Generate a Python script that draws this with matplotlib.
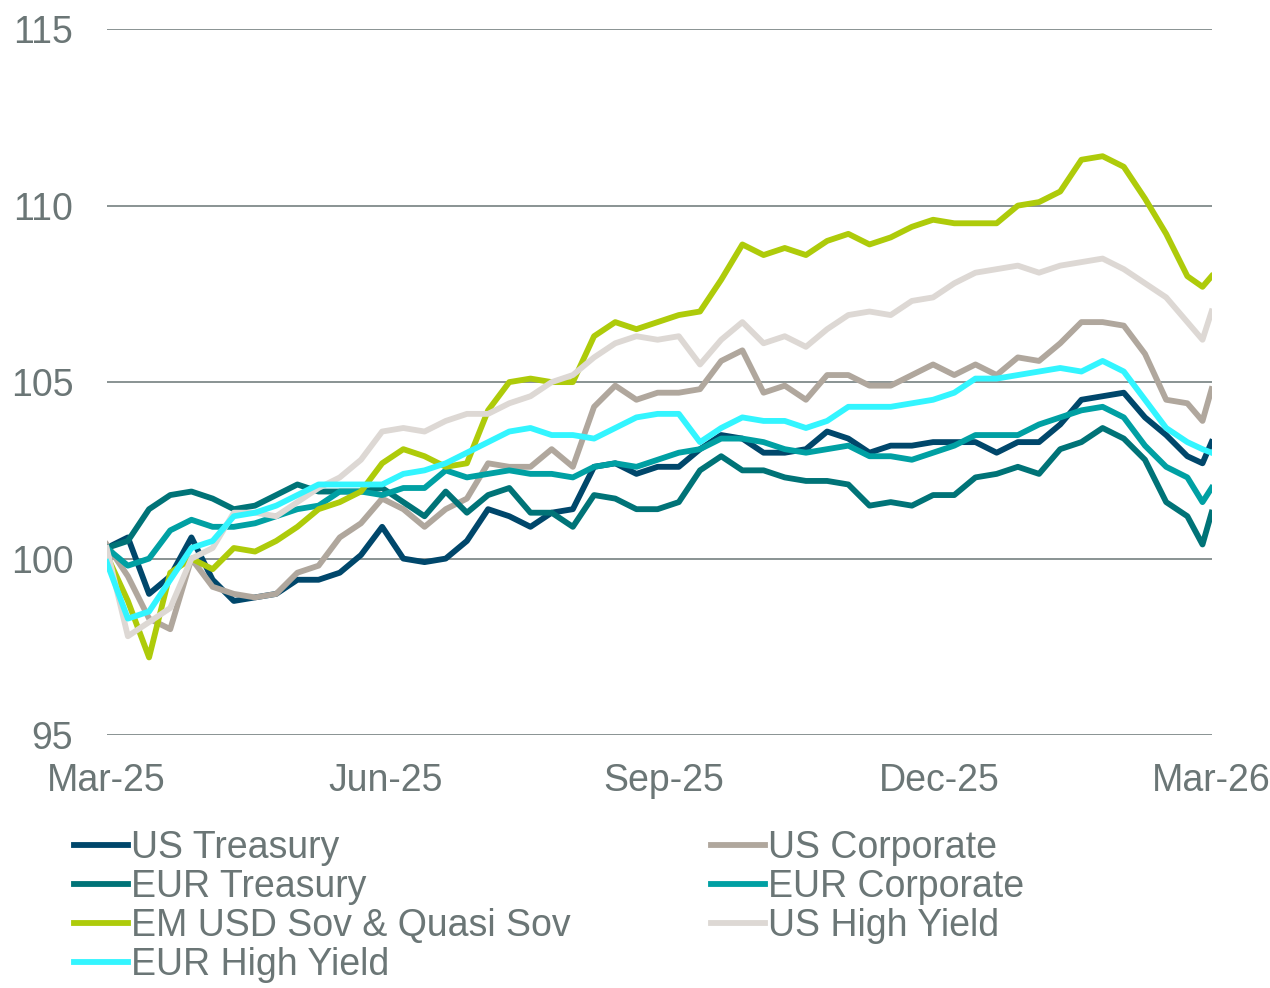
import pandas as pd
import matplotlib
matplotlib.use("Agg")
import matplotlib.pyplot as plt
import matplotlib.dates as mdates

plt.rcParams['font.family'] = ['Liberation Sans', 'DejaVu Sans']

# weekly observations, rebased to 100
dates = list(pd.date_range('2025-03-01', periods=52, freq='7D')) + \
    [pd.Timestamp('2026-02-26'), pd.Timestamp('2026-03-01')]

us_treasury = [100.3, 100.6, 99.0, 99.5, 100.6, 99.4, 98.8, 98.9, 99.0, 99.4,
               99.4, 99.6, 100.1, 100.9, 100.0, 99.9, 100.0, 100.5, 101.4, 101.2,
               100.9, 101.3, 101.4, 102.6, 102.7, 102.4, 102.6, 102.6, 103.1, 103.5,
               103.4, 103.0, 103.0, 103.1, 103.6, 103.4, 103.0, 103.2, 103.2, 103.3,
               103.3, 103.3, 103.0, 103.3, 103.3, 103.8, 104.5, 104.6, 104.7, 104.0,
               103.5, 102.9, 102.7, 103.3]
us_corporate = [100.4, 99.5, 98.3, 98.0, 100.0, 99.2, 99.0, 98.9, 99.0, 99.6,
                99.8, 100.6, 101.0, 101.7, 101.4, 100.9, 101.4, 101.7, 102.7, 102.6,
                102.6, 103.1, 102.6, 104.3, 104.9, 104.5, 104.7, 104.7, 104.8, 105.6,
                105.9, 104.7, 104.9, 104.5, 105.2, 105.2, 104.9, 104.9, 105.2, 105.5,
                105.2, 105.5, 105.2, 105.7, 105.6, 106.1, 106.7, 106.7, 106.6, 105.8,
                104.5, 104.4, 103.9, 104.8]
eur_treasury = [100.3, 100.5, 101.4, 101.8, 101.9, 101.7, 101.4, 101.5, 101.8, 102.1,
                101.9, 101.9, 101.9, 102.0, 101.6, 101.2, 101.9, 101.3, 101.8, 102.0,
                101.3, 101.3, 100.9, 101.8, 101.7, 101.4, 101.4, 101.6, 102.5, 102.9,
                102.5, 102.5, 102.3, 102.2, 102.2, 102.1, 101.5, 101.6, 101.5, 101.8,
                101.8, 102.3, 102.4, 102.6, 102.4, 103.1, 103.3, 103.7, 103.4, 102.8,
                101.6, 101.2, 100.4, 101.3]
eur_corporate = [100.3, 99.8, 100.0, 100.8, 101.1, 100.9, 100.9, 101.0, 101.2, 101.4,
                 101.5, 101.9, 101.9, 101.8, 102.0, 102.0, 102.5, 102.3, 102.4, 102.5,
                 102.4, 102.4, 102.3, 102.6, 102.7, 102.6, 102.8, 103.0, 103.1, 103.4,
                 103.4, 103.3, 103.1, 103.0, 103.1, 103.2, 102.9, 102.9, 102.8, 103.0,
                 103.2, 103.5, 103.5, 103.5, 103.8, 104.0, 104.2, 104.3, 104.0, 103.2,
                 102.6, 102.3, 101.6, 102.0]
em_usd_sov = [100.1, 98.8, 97.2, 99.6, 100.0, 99.7, 100.3, 100.2, 100.5, 100.9,
              101.4, 101.6, 101.9, 102.7, 103.1, 102.9, 102.6, 102.7, 104.2, 105.0,
              105.1, 105.0, 105.0, 106.3, 106.7, 106.5, 106.7, 106.9, 107.0, 107.9,
              108.9, 108.6, 108.8, 108.6, 109.0, 109.2, 108.9, 109.1, 109.4, 109.6,
              109.5, 109.5, 109.5, 110.0, 110.1, 110.4, 111.3, 111.4, 111.1, 110.2,
              109.2, 108.0, 107.7, 108.0]
us_high_yield = [100.3, 97.8, 98.2, 98.6, 100.0, 100.3, 101.3, 101.3, 101.2, 101.6,
                 102.0, 102.3, 102.8, 103.6, 103.7, 103.6, 103.9, 104.1, 104.1, 104.4,
                 104.6, 105.0, 105.2, 105.7, 106.1, 106.3, 106.2, 106.3, 105.5, 106.2,
                 106.7, 106.1, 106.3, 106.0, 106.5, 106.9, 107.0, 106.9, 107.3, 107.4,
                 107.8, 108.1, 108.2, 108.3, 108.1, 108.3, 108.4, 108.5, 108.2, 107.8,
                 107.4, 106.7, 106.2, 107.0]
eur_high_yield = [99.9, 98.3, 98.5, 99.4, 100.3, 100.5, 101.2, 101.3, 101.5, 101.8,
                  102.1, 102.1, 102.1, 102.1, 102.4, 102.5, 102.7, 103.0, 103.3, 103.6,
                  103.7, 103.5, 103.5, 103.4, 103.7, 104.0, 104.1, 104.1, 103.3, 103.7,
                  104.0, 103.9, 103.9, 103.7, 103.9, 104.3, 104.3, 104.3, 104.4, 104.5,
                  104.7, 105.1, 105.1, 105.2, 105.3, 105.4, 105.3, 105.6, 105.3, 104.5,
                  103.7, 103.3, 103.1, 103.0]

series = [
    ('US Treasury', us_treasury, '#00476B'),
    ('US Corporate', us_corporate, '#B0A79D'),
    ('EUR Treasury', eur_treasury, '#007377'),
    ('EUR Corporate', eur_corporate, '#00A0A3'),
    ('EM USD Sov & Quasi Sov', em_usd_sov, '#AECB0A'),
    ('US High Yield', us_high_yield, '#DDD8D4'),
    ('EUR High Yield', eur_high_yield, '#33F5FF'),
]
legend_order = ['US Treasury', 'EUR Treasury', 'EM USD Sov & Quasi Sov', 'EUR High Yield',
                'US Corporate', 'EUR Corporate', 'US High Yield']

text_color = '#6B7676'
grid_color = '#808A8A'

fig = plt.figure(figsize=(12.7, 9.88), dpi=100)
ax = fig.add_axes([0.084, 0.256, 0.87, 0.7145])

handles = {}
for name, vals, col in series:
    line, = ax.plot(dates, vals, color=col, lw=4.2, label=name, solid_joinstyle='round')
    handles[name] = line

ax.set_ylim(95, 115)
ax.set_yticks([95, 100, 105, 110, 115])
ax.set_xlim(pd.Timestamp('2025-03-01'), pd.Timestamp('2026-03-01'))
ax.set_xticks([pd.Timestamp(d) for d in ['2025-03-01', '2025-06-01', '2025-09-01',
                                          '2025-12-01', '2026-03-01']])
ax.xaxis.set_major_formatter(mdates.DateFormatter('%b-%y'))

ax.grid(axis='y', color=grid_color, lw=1.3)
ax.set_axisbelow(True)
for s in ax.spines.values():
    s.set_visible(False)
ax.tick_params(length=0, labelsize=27, labelcolor=text_color)
ax.tick_params(axis='y', pad=24)
ax.tick_params(axis='x', pad=20)

fig.legend([handles[n] for n in legend_order], legend_order, ncol=2,
           loc='upper left', bbox_to_anchor=(0.058, 0.160), frameon=False,
           fontsize=27, labelcolor=text_color, handlelength=1.45,
           handletextpad=0.08, columnspacing=3.73, labelspacing=0.08,
           borderpad=0, borderaxespad=0)

fig.savefig('out.png', dpi=100)
